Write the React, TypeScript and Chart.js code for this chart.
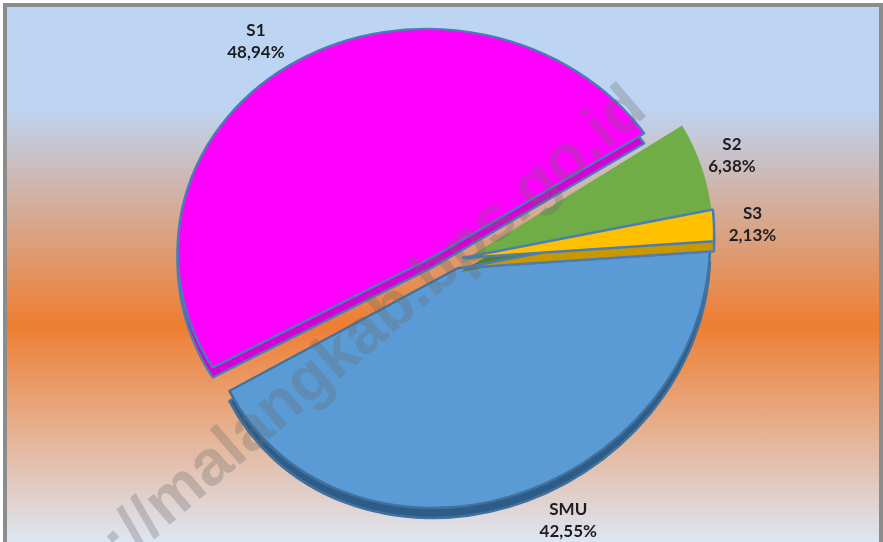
import React, { useEffect, useRef } from "react";
import { Chart, registerables } from "chart.js";

Chart.register(...registerables);

// ---- data ----
const categories = ["S1", "S2", "S3", "SMU"];
const counts = [23, 3, 1, 20];

// ---- styles ----
const faceColors = ["#FF00FF", "#70AD47", "#FFC000", "#5B9BD5"];
const sideColors = ["#D400D4", "#527F33", "#C99700", "#2E5C88"];
const borderColors = ["#4A7DB5", "rgba(0,0,0,0)", "#4A7DB5", "#41719C"];
const borderWidths = [2.5, 0, 2.5, 2.5];
// explode shift (px) and perspective-like matrix [a, b, c, d] per slice
const explodeVec = [
  [-25, -11],
  [3, -6],
  [4, -10],
  [0, 0],
];
const sliceMatrix = [
  [1.013, 0, 0.024, 0.905],
  [0.998, -0.03, -0.0714, 0.952],
  [0.998, -0.03, -0.0714, 0.952],
  [0.998, -0.03, -0.0714, 0.952],
];
const labelNudge = [
  [-24.5, 3],
  [1.5, -0.6],
  [8.5, 3],
  [54, -3.4],
];
const drawOrder = [3, 0, 1, 2];

const W = 883;
const H = 542;
const CX = 458;
const CY = 268;
const R = 252;
const DEPTH = 10;
const START_DEG = 241;

const total = counts.reduce((a, b) => a + b, 0);
const pctText = (v: number) => ((v / total) * 100).toFixed(2).replace(".", ",") + "%";

const pie3d = {
  id: "pie3d",
  beforeDatasetsDraw(chart: any) {
    const ctx = chart.ctx as CanvasRenderingContext2D;
    const arcs = chart.getDatasetMeta(0).data as any[];
    if (!arcs.length) return;
    const drawOne = (i: number, dy: number, fill: string) => {
      const a = arcs[i];
      const cx = a.x;
      const cy = a.y;
      const m = sliceMatrix[i];
      ctx.save();
      ctx.translate(cx + explodeVec[i][0], cy + explodeVec[i][1] + dy);
      ctx.transform(m[0], m[1], m[2], m[3], 0, 0);
      ctx.translate(-cx, -cy);
      const proxy = Object.create(a);
      proxy.options = Object.assign({}, a.options, {
        backgroundColor: fill,
        borderColor: borderColors[i],
        borderWidth: borderWidths[i],
        offset: 0,
      });
      proxy.draw(ctx);
      ctx.restore();
    };
    for (const i of drawOrder) {
      drawOne(i, DEPTH, sideColors[i]);
      drawOne(i, 0, faceColors[i]);
    }
    return false;
  },
  afterDraw(chart: any) {
    const ctx = chart.ctx as CanvasRenderingContext2D;
    const arcs = chart.getDatasetMeta(0).data as any[];
    if (!arcs.length) return;

    // watermark
    ctx.save();
    ctx.translate(638, 100);
    ctx.rotate((-40.6 * Math.PI) / 180);
    ctx.font = "bold 64px 'Liberation Sans', Arial, sans-serif";
    ctx.textAlign = "right";
    ctx.textBaseline = "middle";
    ctx.fillStyle = "rgba(105,105,105,0.3)";
    ctx.fillText("http://malangkab.bps.go.id", 0, 0);
    ctx.restore();

    // data labels
    ctx.save();
    ctx.font = "bold 17px Lato, 'Open Sans', sans-serif";
    ctx.textAlign = "center";
    ctx.textBaseline = "middle";
    ctx.fillStyle = "#1E1E1E";
    arcs.forEach((a, i) => {
      const mid = (a.startAngle + a.endAngle) / 2;
      const L = a.outerRadius + 30;
      const ux = Math.cos(mid) * L;
      const uy = Math.sin(mid) * L;
      const m = sliceMatrix[i];
      const x = a.x + explodeVec[i][0] + m[0] * ux + m[2] * uy + labelNudge[i][0];
      const y = a.y + explodeVec[i][1] + m[1] * ux + m[3] * uy + labelNudge[i][1];
      ctx.fillText(categories[i], x, y - 11);
      ctx.fillText(pctText(counts[i]), x, y + 11);
    });
    ctx.restore();
  },
};

export default function App() {
  const ref = useRef<HTMLCanvasElement>(null);
  useEffect(() => {
    if (!ref.current) return;
    const padX = 2 * CX - W;
    const padY = 2 * CY - H;
    const chart = new Chart(ref.current, {
      type: "pie",
      data: {
        labels: categories,
        datasets: [
          {
            data: counts,
            backgroundColor: faceColors,
            borderColor: borderColors,
            borderWidth: borderWidths,
            radius: R,
          } as any,
        ],
      },
      options: {
        responsive: false,
        maintainAspectRatio: false,
        devicePixelRatio: 1,
        animation: false,
        rotation: START_DEG,
        layout: {
          padding: {
            left: Math.max(padX, 0),
            right: Math.max(-padX, 0),
            top: Math.max(padY, 0),
            bottom: Math.max(-padY, 0),
          },
        },
        plugins: {
          legend: { display: false },
          tooltip: { enabled: false },
        },
        events: [],
      },
      plugins: [pie3d],
    });
    return () => chart.destroy();
  }, []);

  return (
    <div
      style={{
        position: "fixed",
        left: 0,
        top: 0,
        width: W,
        height: H,
        overflow: "hidden",
        background: "#ffffff",
      }}
    >
      <div
        style={{
          position: "absolute",
          left: 3,
          top: 3,
          width: 880,
          height: 546,
          boxSizing: "border-box",
          border: "4px solid #8C8C8C",
          background:
            "linear-gradient(to bottom, #BDD5F3 0px, #BDD5F3 100px, #EE7E32 318px, #DDE7F6 538px)",
        }}
      />
      <canvas
        ref={ref}
        width={W}
        height={H}
        style={{ position: "absolute", left: 0, top: 0, width: W, height: H }}
      />
    </div>
  );
}
